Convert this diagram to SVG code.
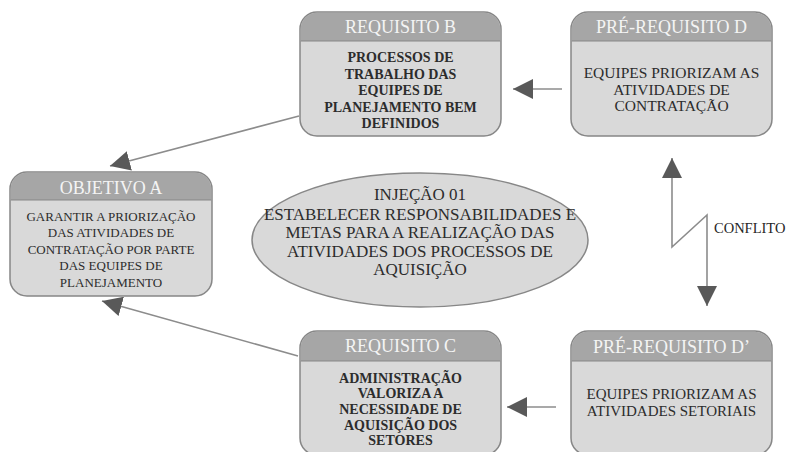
<svg xmlns="http://www.w3.org/2000/svg" width="792" height="452" viewBox="0 0 792 452">
  <style>
    text { font-family: 'Liberation Serif', 'Times New Roman', serif; }
    .body { fill: #d9d9d9; stroke: #878787; stroke-width: 1.5; }
    .head { fill: #a6a6a6; }
    .sep { stroke: #878787; stroke-width: 1; }
    .ttl { font-size: 18px; fill: #f4f4f4; text-anchor: middle; }
    .txt { font-size: 15.5px; fill: #2c2c2c; text-anchor: middle; }
    .b { font-weight: bold; font-size: 14px; }
    .sm { font-size: 13px; }
    .md { font-size: 15px; }
    .ell { fill: #d9d9d9; stroke: #878787; stroke-width: 1.5; }
    .etxt { font-size: 17px; fill: #2c2c2c; text-anchor: middle; }
    .conn { fill: none; stroke: #8c8c8c; stroke-width: 1.6; }
    .lbl { font-size: 14.5px; fill: #262626; }
  </style>
  <defs>
    <marker id="arrow" viewBox="0 0 20 20" refX="20" refY="10" markerWidth="20" markerHeight="20" markerUnits="userSpaceOnUse" orient="auto-start-reverse">
      <path d="M0,0 L20,10 L0,20 Z" fill="#595959"/>
    </marker>
  </defs>

  <!-- connectors -->
  <g id="connectors">
    <path class="conn" d="M299,116 L110,166" marker-end="url(#arrow)"/>
    <path class="conn" d="M298,356 L102,301" marker-end="url(#arrow)"/>
    <path class="conn" d="M562,89 L513,89" marker-end="url(#arrow)"/>
    <path class="conn" d="M556,407 L507,407" marker-end="url(#arrow)"/>
    <path class="conn" d="M672,158 V247 L707,215 V306" marker-start="url(#arrow)" marker-end="url(#arrow)"/>
    <text class="lbl" x="714" y="233">CONFLITO</text>
  </g>

  <!-- Objetivo A -->
  <g id="objetivo-a">
    <rect class="body" x="10" y="172" width="202" height="124" rx="17"/>
    <path class="head" d="M10.75,200 V189 A16.25,16.25 0 0 1 27,172.75 H195 A16.25,16.25 0 0 1 211.25,189 V200 Z"/>
    <line class="sep" x1="10.75" y1="200" x2="211.25" y2="200"/>
    <text class="ttl" x="111" y="194">OBJETIVO A</text>
    <text class="txt sm" x="111" y="220.5">GARANTIR A PRIORIZAÇÃO</text>
    <text class="txt sm" x="111" y="237">DAS ATIVIDADES DE</text>
    <text class="txt sm" x="111" y="253.5">CONTRATAÇÃO POR PARTE</text>
    <text class="txt sm" x="111" y="270">DAS EQUIPES DE</text>
    <text class="txt sm" x="111" y="287">PLANEJAMENTO</text>
  </g>

  <!-- Requisito B -->
  <g id="requisito-b">
    <rect class="body" x="300" y="12" width="201" height="124" rx="17"/>
    <path class="head" d="M300.75,41 V29 A16.25,16.25 0 0 1 317,12.75 H484 A16.25,16.25 0 0 1 500.25,29 V41 Z"/>
    <line class="sep" x1="300.75" y1="41" x2="500.25" y2="41"/>
    <text class="ttl" x="400.5" y="33">REQUISITO B</text>
    <text class="txt b" x="400.5" y="62">PROCESSOS DE</text>
    <text class="txt b" x="400.5" y="78.5">TRABALHO DAS</text>
    <text class="txt b" x="400.5" y="95">EQUIPES DE</text>
    <text class="txt b" x="400.5" y="111.5">PLANEJAMENTO BEM</text>
    <text class="txt b" x="400.5" y="128">DEFINIDOS</text>
  </g>

  <!-- Pré-requisito D -->
  <g id="pre-requisito-d">
    <rect class="body" x="571" y="12" width="201" height="124" rx="17"/>
    <path class="head" d="M571.75,41 V29 A16.25,16.25 0 0 1 588,12.75 H755 A16.25,16.25 0 0 1 771.25,29 V41 Z"/>
    <line class="sep" x1="571.75" y1="41" x2="771.25" y2="41"/>
    <text class="ttl" x="671.5" y="33">PRÉ-REQUISITO D</text>
    <text class="txt" x="671.5" y="78">EQUIPES PRIORIZAM AS</text>
    <text class="txt" x="671.5" y="95">ATIVIDADES DE</text>
    <text class="txt" x="671.5" y="111">CONTRATAÇÃO</text>
  </g>

  <!-- Requisito C -->
  <g id="requisito-c">
    <rect class="body" x="300" y="331" width="201" height="124" rx="17"/>
    <path class="head" d="M300.75,361 V348 A16.25,16.25 0 0 1 317,331.75 H484 A16.25,16.25 0 0 1 500.25,348 V361 Z"/>
    <line class="sep" x1="300.75" y1="361" x2="500.25" y2="361"/>
    <text class="ttl" x="400.5" y="352">REQUISITO C</text>
    <text class="txt b" x="400.5" y="383">ADMINISTRAÇÃO</text>
    <text class="txt b" x="400.5" y="398">VALORIZA A</text>
    <text class="txt b" x="400.5" y="413.5">NECESSIDADE DE</text>
    <text class="txt b" x="400.5" y="430">AQUISIÇÃO DOS</text>
    <text class="txt b" x="400.5" y="445">SETORES</text>
  </g>

  <!-- Pré-requisito D' -->
  <g id="pre-requisito-d-linha">
    <rect class="body" x="571" y="331" width="201" height="124" rx="17"/>
    <path class="head" d="M571.75,361 V348 A16.25,16.25 0 0 1 588,331.75 H755 A16.25,16.25 0 0 1 771.25,348 V361 Z"/>
    <line class="sep" x1="571.75" y1="361" x2="771.25" y2="361"/>
    <text class="ttl" x="671.5" y="353">PRÉ-REQUISITO D’</text>
    <text class="txt md" x="671.5" y="399">EQUIPES PRIORIZAM AS</text>
    <text class="txt md" x="671.5" y="415.5">ATIVIDADES SETORIAIS</text>
  </g>

  <!-- Injeção 01 -->
  <g id="injecao-01">
    <ellipse class="ell" cx="420" cy="240" rx="168" ry="67"/>
    <text class="etxt" x="420" y="200">INJEÇÃO 01</text>
    <text class="etxt" x="420" y="219.5">ESTABELECER RESPONSABILIDADES E</text>
    <text class="etxt" x="420" y="238">METAS PARA A REALIZAÇÃO DAS</text>
    <text class="etxt" x="420" y="256.5">ATIVIDADES DOS PROCESSOS DE</text>
    <text class="etxt" x="420" y="275">AQUISIÇÃO</text>
  </g>
</svg>
